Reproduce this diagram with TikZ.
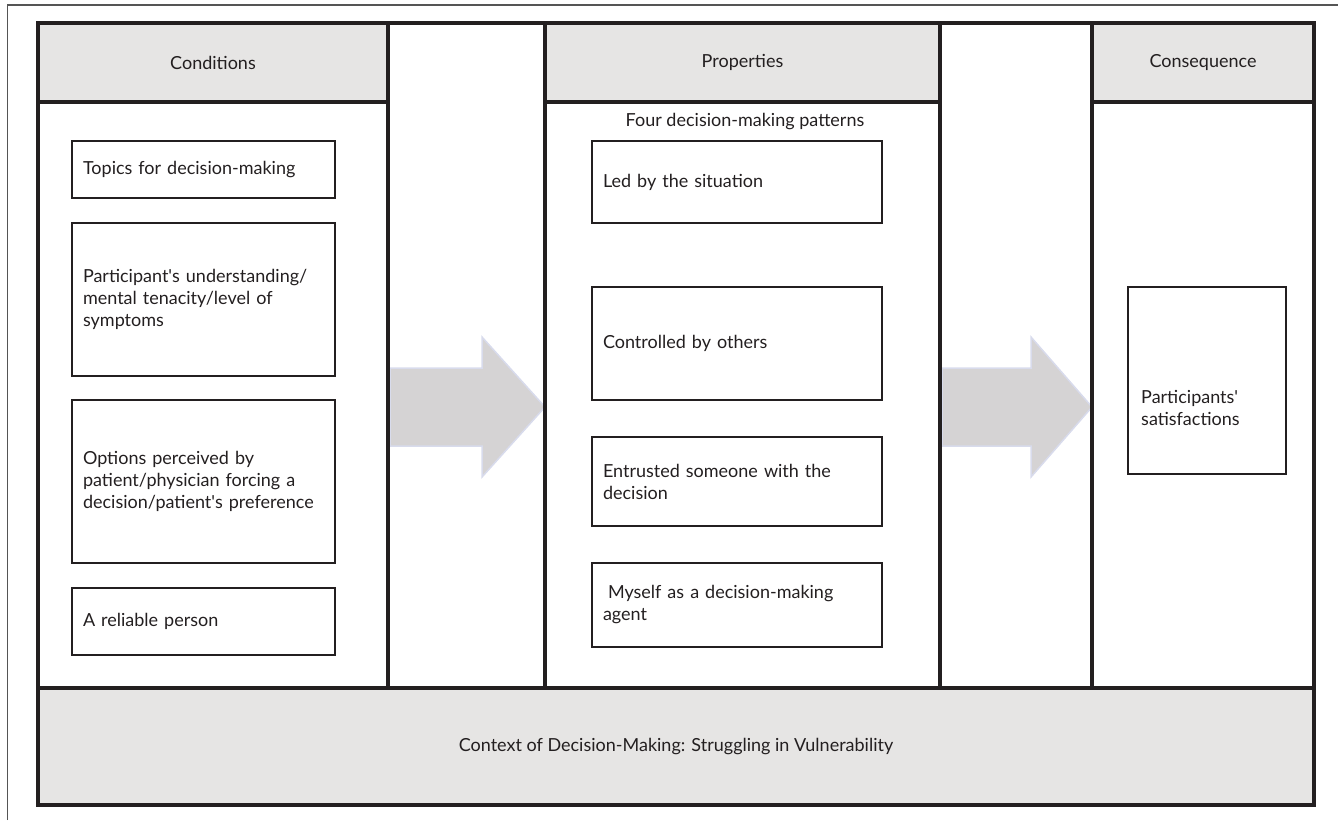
\documentclass[tikz,border=0pt]{standalone}
\usepackage{fontspec}
\setmainfont{Lato}
\definecolor{ink}{HTML}{231F20}
\definecolor{hdr}{HTML}{E6E5E4}
\definecolor{arrfill}{HTML}{D5D3D4}
\definecolor{arredge}{HTML}{D8DBEC}
\definecolor{outer}{HTML}{555555}
\newcommand{\q}{\textquotesingle}
\tikzset{
  txt/.style={font=\fontsize{18}{22}\selectfont, text=ink},
  box/.style={txt, draw=ink, line width=2pt, inner xsep=11pt, inner ysep=0pt, align=left},
  band/.style={txt, fill=hdr, draw=none, inner sep=0pt},
  frame/.style={draw=ink, line width=4pt},
  blockarrow/.style={fill=arrfill, draw=arredge, line width=1.5pt, line join=miter}
}
\begin{document}
\begin{tikzpicture}[x=1pt,y=-1pt]
\useasboundingbox (0,0) rectangle (1338,820);
% outer thin frame
\draw[outer, line width=1.3pt] (7.5,820) -- (7.5,5) -- (1338,5);

% gray header and band fills
\node[band, minimum width=350pt, minimum height=79pt] (hcond) at (213,62.5) {Conditions};
\node[band, minimum width=395pt, minimum height=79pt] (hprop) at (742.5,62.5) {Properties};
\node[band, minimum width=222pt, minimum height=79pt] (hcons) at (1203,62.5) {Consequence};
\node[band, minimum width=1276pt, minimum height=117pt] (context) at (676,746.5) {Context of Decision-Making: Struggling in Vulnerability};

% block arrows
\draw[blockarrow] (390,368) -- (482,368) -- (482,337) -- (545,407) -- (482,477) -- (482,446) -- (390,446) -- cycle;
\draw[blockarrow] (942,368) -- (1031,368) -- (1031,337) -- (1092,407) -- (1031,477) -- (1031,446) -- (942,446) -- cycle;

% frame lines
\draw[frame] (38,23) rectangle (1314,805);
\draw[frame] (38,688) -- (1314,688);
\draw[frame] (388,23) -- (388,688);
\draw[frame] (545,23) -- (545,688);
\draw[frame] (940,23) -- (940,688);
\draw[frame] (1092,23) -- (1092,688);
\draw[frame] (38,102) -- (388,102);
\draw[frame] (545,102) -- (940,102);
\draw[frame] (1092,102) -- (1314,102);

% Conditions boxes
\node[box, text width=241pt, minimum height=57pt] (c1) at (203.5,169.5) {Topics for decision-making};
\node[box, text width=241pt, minimum height=153pt] (c2) at (203.5,299.5) {Participant\q s understanding/\\mental tenacity/level of\\symptoms};
\node[box, text width=241pt, minimum height=163pt] (c3) at (203.5,481.5) {Options perceived by\\patient/physician forcing a\\decision/patient\q s preference};
\node[box, text width=241pt, minimum height=67pt] (c4) at (203.5,621.5) {A reliable person};

% Properties
\node[txt] (four) at (745,122) {Four decision-making patterns};
\node[box, text width=268pt, minimum height=82pt] (p1) at (737,182) {Led by the situation};
\node[box, text width=268pt, minimum height=113pt] (p2) at (737,343.5) {Controlled by others};
\node[box, text width=268pt, minimum height=89pt] (p3) at (737,481.5) {Entrusted someone with the\\decision};
\node[box, text width=268pt, minimum height=84pt] (p4) at (737,605) {\hspace*{5pt}Myself as a decision-making\\agent};

% Consequence
\node[box, minimum width=158pt, minimum height=187pt] (q1) at (1207,380.5) {};
\node[txt, align=left, anchor=west, inner sep=0pt] (q1t) at (1141,408) {Participants\q\\satisfactions};
\end{tikzpicture}
\end{document}
